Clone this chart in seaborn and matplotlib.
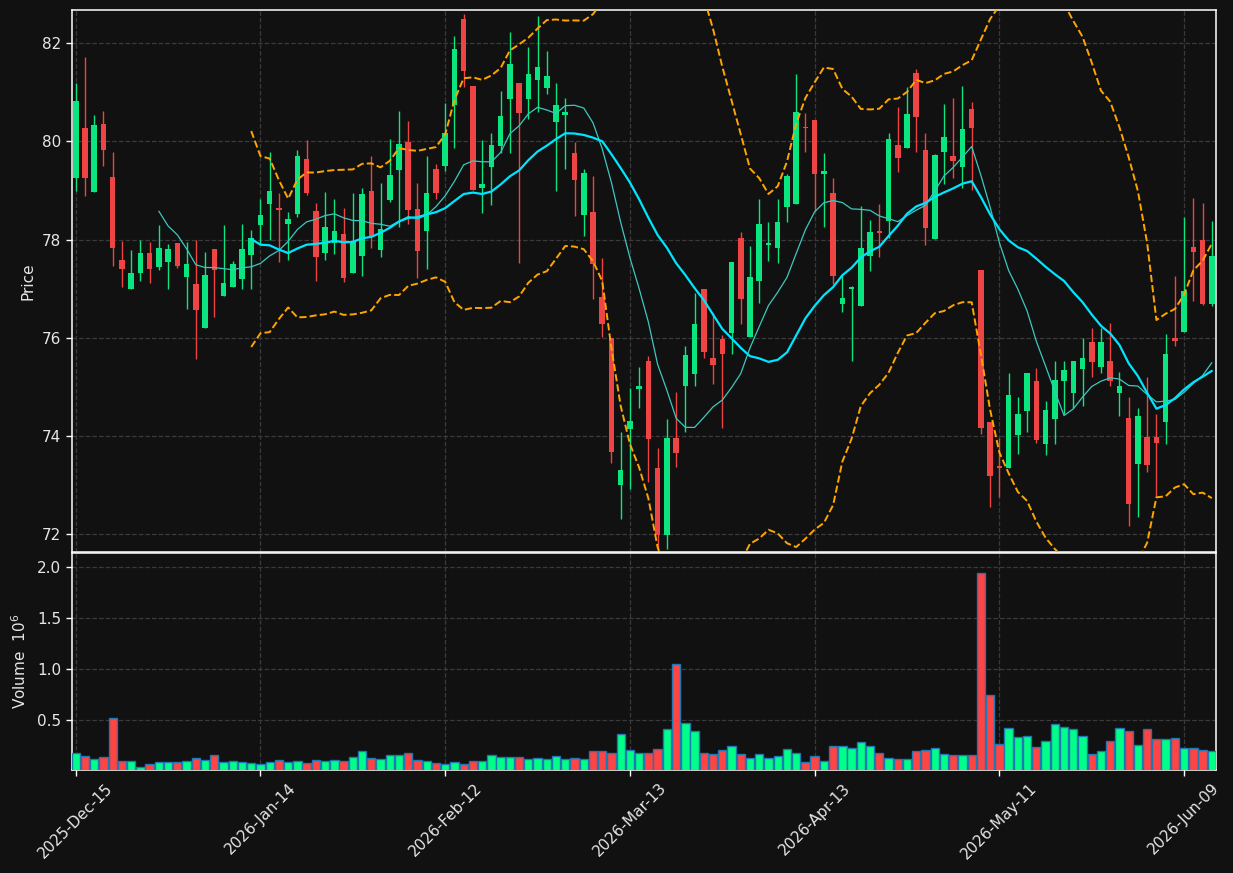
import numpy as np
import pandas as pd
import matplotlib
matplotlib.use("Agg")
import matplotlib.pyplot as plt
import seaborn as sns

# ---------------- data ----------------
opens = [79.26, 80.28, 78.97, 80.36, 79.27, 77.58, 77.00, 77.33, 77.73, 77.44,
         77.55, 77.93, 77.24, 77.09, 76.21, 77.81, 76.85, 77.04, 77.20, 77.69,
         78.30, 78.72, 78.64, 78.32, 78.52, 79.64, 78.58, 77.73, 77.93, 78.11,
         77.33, 77.67, 78.99, 77.79, 78.81, 79.42, 79.98, 78.62, 78.18, 79.44,
         79.50, 80.75, 82.49, 81.13, 79.06, 79.47, 79.90, 80.87, 81.19, 80.87,
         81.26, 81.08, 80.40, 80.53, 79.77, 78.51, 78.56, 76.83, 76.00, 73.00,
         74.15, 74.96, 75.52, 73.35, 71.99, 73.96, 75.02, 75.27, 76.99, 75.60,
         75.97, 76.10, 78.03, 76.02, 77.16, 77.89, 77.82, 78.67, 78.73, 80.28,
         80.44, 79.34, 78.95, 76.69, 76.99, 76.65, 77.67, 78.15, 78.38, 79.93,
         79.87, 81.40, 79.82, 78.02, 79.79, 79.70, 79.48, 80.66, 77.38, 74.28,
         73.40, 73.35, 74.02, 74.51, 75.12, 73.84, 74.35, 75.12, 74.88, 75.37,
         75.91, 75.41, 75.52, 74.88, 74.37, 73.43, 73.99, 73.99, 74.29, 76.00,
         76.12, 77.86, 77.99, 76.69]
highs = [81.19, 81.72, 80.53, 80.62, 79.79, 77.98, 77.78, 77.99, 77.96, 78.29,
         77.92, 77.93, 77.96, 78.00, 77.74, 77.81, 78.29, 77.57, 78.31, 78.19,
         78.83, 79.79, 78.94, 78.57, 79.82, 80.02, 78.74, 78.98, 78.82, 78.64,
         78.94, 79.05, 79.71, 79.16, 80.04, 80.62, 80.41, 79.16, 79.70, 79.55,
         80.79, 82.14, 82.60, 81.13, 80.02, 80.17, 81.02, 82.22, 81.19, 81.93,
         82.55, 81.85, 81.18, 80.88, 79.98, 79.43, 79.29, 77.62, 76.00, 74.09,
         74.97, 75.41, 75.64, 73.75, 74.34, 74.90, 75.83, 76.91, 76.99, 76.50,
         76.06, 77.54, 78.16, 77.88, 78.82, 78.35, 78.82, 79.34, 81.37, 80.58,
         80.44, 79.77, 79.25, 77.31, 77.06, 78.69, 78.41, 78.73, 80.17, 80.71,
         81.11, 81.48, 80.18, 79.75, 80.77, 80.89, 81.12, 80.81, 77.38, 74.28,
         73.97, 75.28, 74.80, 75.28, 75.39, 74.72, 75.53, 75.52, 75.52, 75.99,
         76.21, 76.20, 76.31, 75.31, 74.79, 74.58, 75.20, 74.44, 76.07, 77.25,
         78.47, 78.84, 78.75, 78.38]
lows = [78.99, 78.89, 78.97, 79.50, 77.47, 77.04, 77.00, 77.16, 77.11, 77.39,
        76.99, 77.42, 76.58, 75.56, 76.21, 76.42, 76.85, 77.04, 76.99, 77.00,
        77.92, 78.00, 77.55, 77.59, 78.47, 78.91, 77.16, 77.59, 77.70, 77.14,
        77.33, 77.26, 77.84, 77.65, 78.77, 78.25, 78.31, 77.22, 77.40, 78.83,
        79.39, 79.86, 81.10, 79.02, 78.54, 78.70, 79.77, 79.77, 77.52, 80.45,
        80.60, 80.97, 79.00, 79.44, 78.48, 78.08, 76.80, 76.02, 73.46, 72.32,
        72.92, 74.58, 73.07, 71.40, 71.71, 73.38, 74.09, 75.01, 75.60, 75.07,
        74.16, 75.68, 76.29, 76.02, 76.70, 77.57, 77.52, 78.35, 78.73, 79.78,
        78.59, 78.25, 77.09, 76.53, 75.52, 76.65, 77.37, 77.64, 78.04, 79.37,
        79.87, 79.79, 77.90, 78.02, 79.14, 79.26, 79.05, 79.02, 74.05, 72.55,
        72.77, 73.35, 73.64, 74.09, 73.86, 73.62, 73.83, 74.44, 74.58, 74.62,
        75.20, 75.28, 75.02, 74.41, 72.16, 72.35, 73.27, 72.75, 73.84, 75.84,
        76.12, 76.75, 76.67, 76.64]
closes = [80.82, 79.26, 80.33, 79.83, 77.84, 77.41, 77.33, 77.73, 77.41, 77.83,
          77.81, 77.46, 77.50, 76.57, 77.28, 77.39, 77.12, 77.50, 77.81, 78.03,
          78.51, 78.99, 78.60, 78.42, 79.70, 78.95, 77.64, 78.25, 78.17, 77.22,
          77.97, 78.93, 78.08, 78.22, 79.31, 79.95, 78.61, 77.77, 78.95, 78.94,
          80.17, 81.88, 81.44, 79.02, 79.13, 79.93, 80.52, 81.58, 80.57, 81.37,
          81.51, 81.33, 80.74, 80.60, 79.22, 79.36, 77.51, 76.29, 73.67, 73.30,
          74.30, 75.01, 73.94, 71.99, 73.97, 73.66, 75.65, 76.28, 75.71, 75.45,
          75.68, 77.54, 76.80, 77.23, 78.32, 77.93, 78.35, 79.29, 80.60, 80.27,
          79.34, 79.39, 77.25, 76.81, 77.03, 77.84, 78.15, 78.14, 80.05, 79.67,
          80.56, 80.50, 78.24, 79.72, 80.09, 79.60, 80.25, 80.28, 74.17, 73.19,
          73.35, 74.83, 74.44, 75.28, 73.92, 74.53, 75.14, 75.34, 75.52, 75.59,
          75.51, 75.91, 75.12, 75.03, 72.62, 74.40, 73.41, 73.86, 75.67, 75.94,
          76.96, 77.74, 76.69, 77.66]
volumes_m = [0.176, 0.147, 0.118, 0.137, 0.520, 0.098, 0.098, 0.046, 0.069, 0.088,
             0.088, 0.088, 0.098, 0.127, 0.108, 0.157, 0.088, 0.098, 0.088, 0.078,
             0.069, 0.088, 0.108, 0.088, 0.098, 0.078, 0.108, 0.098, 0.108, 0.098,
             0.137, 0.196, 0.127, 0.118, 0.157, 0.157, 0.176, 0.108, 0.098, 0.078,
             0.069, 0.088, 0.069, 0.098, 0.098, 0.157, 0.137, 0.137, 0.137, 0.118,
             0.127, 0.118, 0.147, 0.118, 0.127, 0.118, 0.196, 0.196, 0.176, 0.366,
             0.206, 0.176, 0.176, 0.216, 0.412, 1.049, 0.471, 0.392, 0.176, 0.167,
             0.206, 0.245, 0.167, 0.127, 0.167, 0.127, 0.147, 0.216, 0.176, 0.088,
             0.147, 0.098, 0.245, 0.245, 0.225, 0.284, 0.245, 0.176, 0.127, 0.118,
             0.118, 0.196, 0.206, 0.225, 0.167, 0.157, 0.157, 0.157, 1.941, 0.745,
             0.265, 0.422, 0.333, 0.343, 0.235, 0.294, 0.461, 0.431, 0.412, 0.343,
             0.167, 0.196, 0.294, 0.422, 0.392, 0.255, 0.412, 0.314, 0.314, 0.324,
             0.225, 0.225, 0.206, 0.196]
tick_positions = [0, 20, 40, 60, 80, 100, 120]
tick_labels = ["2025-Dec-15", "2026-Jan-14", "2026-Feb-12", "2026-Mar-13",
               "2026-Apr-13", "2026-May-11", "2026-Jun-09"]
price_ticks = [72, 74, 76, 78, 80, 82]
volume_ticks = [0.5, 1.0, 1.5, 2.0]

# ---------------- style ----------------
BG = "#111111"
UP_C, DN_C = "#0be57f", "#ee4444"
UP_V, DN_V = "#00ff88", "#ff4444"
GRID = "#3a3a3a"
TXT = "#e6e6e6"

sns.set_theme(style="dark", rc={
    "axes.facecolor": BG, "figure.facecolor": BG, "savefig.facecolor": BG,
    "axes.edgecolor": "white", "text.color": TXT, "axes.labelcolor": TXT,
    "xtick.color": TXT, "ytick.color": TXT,
})
plt.rcParams["font.family"] = ["DejaVu Sans"]

df = pd.DataFrame({"i": np.arange(len(closes)), "Open": opens, "High": highs,
                   "Low": lows, "Close": closes, "Volume": volumes_m})
df["MA10"] = df["Close"].rolling(10).mean()
df["MA20"] = df["Close"].rolling(20).mean()
sd = df["Close"].rolling(20).std(ddof=0)
df["Upper"] = df["MA20"] + 2 * sd
df["Lower"] = df["MA20"] - 2 * sd
up = df["Close"] >= df["Open"]

fig = plt.figure(figsize=(12.33, 8.73), dpi=100)
ax1 = fig.add_axes([0.0582, 0.3677, 0.928, 0.6205])
ax2 = fig.add_axes([0.0582, 0.118, 0.928, 0.2484], sharex=ax1)

# candles
ccol = np.where(up, UP_C, DN_C)
ax1.vlines(df["i"], df["Low"], df["High"], colors=ccol, linewidth=1.0, zorder=2)
body_bot = np.minimum(df["Open"], df["Close"])
body_h = np.maximum(np.abs(df["Close"] - df["Open"]), 0.03)
ax1.bar(df["i"], body_h, bottom=body_bot, width=0.6, color=ccol, linewidth=0, zorder=3)

# moving averages and bands
d = df.dropna(subset=["MA10"])
sns.lineplot(data=d, x="i", y="MA10", ax=ax1, color="#3cc8c0", linewidth=0.9, zorder=4)
d = df.dropna(subset=["MA20"])
sns.lineplot(data=d, x="i", y="MA20", ax=ax1, color="#00e5ff", linewidth=1.6, zorder=5)
sns.lineplot(data=d, x="i", y="Upper", ax=ax1, color="#ffa500", linewidth=1.4,
             linestyle="--", zorder=4)
sns.lineplot(data=d, x="i", y="Lower", ax=ax1, color="#ffa500", linewidth=1.4,
             linestyle="--", zorder=4)

# volume
vcol = np.where(up, UP_V, DN_V)
ax2.bar(df["i"], df["Volume"], width=0.9, color=vcol, edgecolor="#1f77b4",
        linewidth=1.0, zorder=3)

# axes formatting
n = len(closes)
ax1.set_xlim(-0.43, n - 0.55)
ax1.set_ylim(71.64, 82.67)
ax2.set_ylim(0.3 * min(volumes_m), 1.1 * max(volumes_m))
ax1.set_yticks(price_ticks)
ax2.set_yticks(volume_ticks)
ax2.set_yticklabels([f"{v:.1f}" for v in volume_ticks])
ax2.set_xticks(tick_positions)
ax2.set_xticklabels(tick_labels, rotation=45, ha="center")
plt.setp(ax1.get_xticklabels(), visible=False)

for ax in (ax1, ax2):
    ax.grid(True, linestyle="--", color=GRID, linewidth=0.9, zorder=0)
    ax.set_axisbelow(True)
    for s in ax.spines.values():
        s.set_color("white")
        s.set_linewidth(1.1)
    ax.tick_params(axis="both", which="major", length=4, width=1, color="white",
                   labelsize=11, labelcolor=TXT, direction="out",
                   left=True, bottom=True)
ax1.tick_params(axis="x", length=0)
ax1.set_xlabel("")
ax2.set_xlabel("")
ax1.set_ylabel("Price", fontsize=11, color=TXT)
ax2.set_ylabel("Volume  $10^{6}$", fontsize=11, color=TXT)
ax1.yaxis.set_label_coords(-0.032, 0.5)
ax2.yaxis.set_label_coords(-0.037, 0.5)

fig.savefig("out.png", dpi=100, facecolor=BG)
